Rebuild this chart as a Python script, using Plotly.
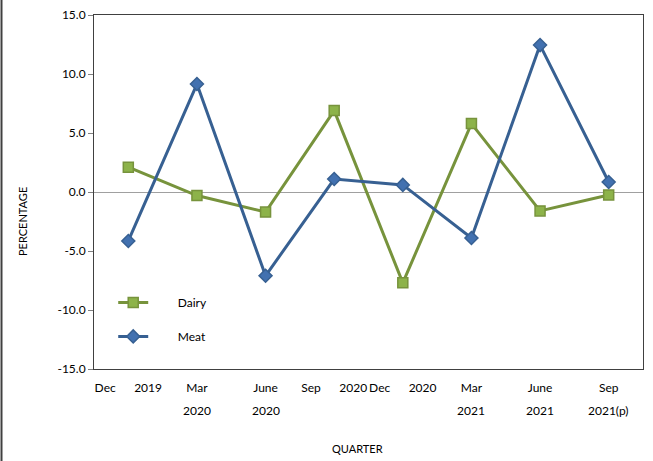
import plotly.graph_objects as go

quarters = ["Dec 2019", "Mar 2020", "June 2020", "Sep 2020", "Dec 2020", "Mar 2021", "June 2021", "Sep 2021(p)"]
NB = "&nbsp;"
tick_labels = ["Dec" + NB * 6 + "2019", "Mar", "June",
               "Sep" + NB * 6 + "2020", "Dec" + NB * 6 + "2020",
               "Mar", "June", "Sep"]
tick_labels_row2 = ["", "2020", "2020", "", "", "2021", "2021", "2021(p)"]
dairy = [2.1, -0.3, -1.7, 6.9, -7.7, 5.8, -1.6, -0.25]
meat = [-4.15, 9.15, -7.1, 1.1, 0.6, -3.9, 12.45, 0.85]
y_ticks = [15, 10, 5, 0, -5, -10, -15]
y_tick_labels = ["15.0", "10.0", "5.0", "0.0", "-5.0", "-10.0", "-15.0"]

FONT = "Lato, Liberation Sans, sans-serif"

fig = go.Figure()
fig.add_trace(go.Scatter(
    x=quarters, y=dairy, name=NB * 8 + "Dairy", mode="lines+markers",
    line=dict(color="#77933C", width=3),
    marker=dict(symbol="square", size=10, color="#8DB34A", line=dict(color="#77933C", width=1.5)),
    legendgroup="a"))
fig.add_trace(go.Scatter(
    x=quarters, y=meat, name=NB * 8 + "Meat", mode="lines+markers",
    line=dict(color="#376092", width=3),
    marker=dict(symbol="diamond", size=10, color="#4271B0", line=dict(color="#376092", width=1.5)),
    legendgroup="b"))

fig.update_layout(
    width=653, height=461,
    margin=dict(l=94, r=10, t=15, b=92),
    paper_bgcolor="white", plot_bgcolor="white",
    font=dict(family=FONT, size=12, color="black"),
    showlegend=True,
    legend=dict(x=0.035, y=0.229, xanchor="left", yanchor="top",
                bgcolor="rgba(0,0,0,0)", font=dict(size=12, family=FONT),
                traceorder="grouped", tracegroupgap=15),
    xaxis=dict(type="category", tickmode="array", tickvals=quarters, ticktext=tick_labels,
               tickangle=0, automargin=False, ticklabelstandoff=8,
               showgrid=False, showline=True, linecolor="#404040", linewidth=1, mirror=True,
               ticks="", tickfont=dict(size=12, family=FONT), zeroline=False,
               range=[-0.5, 7.5]),
    yaxis=dict(range=[-15, 15], tickmode="array", tickvals=y_ticks, ticktext=y_tick_labels,
               automargin=False,
               showgrid=False, showline=True, linecolor="#404040", linewidth=1, mirror=True,
               ticks="outside", ticklen=5, tickcolor="#808080",
               zeroline=True, zerolinecolor="#A0A0A0", zerolinewidth=1,
               tickfont=dict(size=12, family=FONT)),
)

for q, lab in zip(quarters, tick_labels_row2):
    if lab:
        fig.add_annotation(text=lab, x=q, xref="x", yref="paper", y=(369 - 411) / 354,
                           xanchor="center", yanchor="middle", showarrow=False,
                           font=dict(size=12, family=FONT))

fig.add_annotation(text="PERCENTAGE", xref="paper", yref="paper", x=(22 - 94) / 549, y=(369 - 222) / 354,
                   xanchor="center", yanchor="middle",
                   textangle=-90, showarrow=False, font=dict(size=11, family=FONT))
fig.add_annotation(text="QUARTER", xref="paper", yref="paper", x=(357 - 94) / 549, y=-(449 - 369) / 354,
                   xanchor="center", yanchor="middle",
                   showarrow=False, font=dict(size=11, family=FONT))
fig.add_shape(type="line", xref="paper", yref="paper", x0=(1.5 - 94) / 549, x1=(1.5 - 94) / 549,
              y0=-92 / 354, y1=(369 + 15) / 354, line=dict(color="#404040", width=2))

fig.write_html("out.html", config={"displayModeBar": False},
               post_script="document.body.style.margin='0';")
